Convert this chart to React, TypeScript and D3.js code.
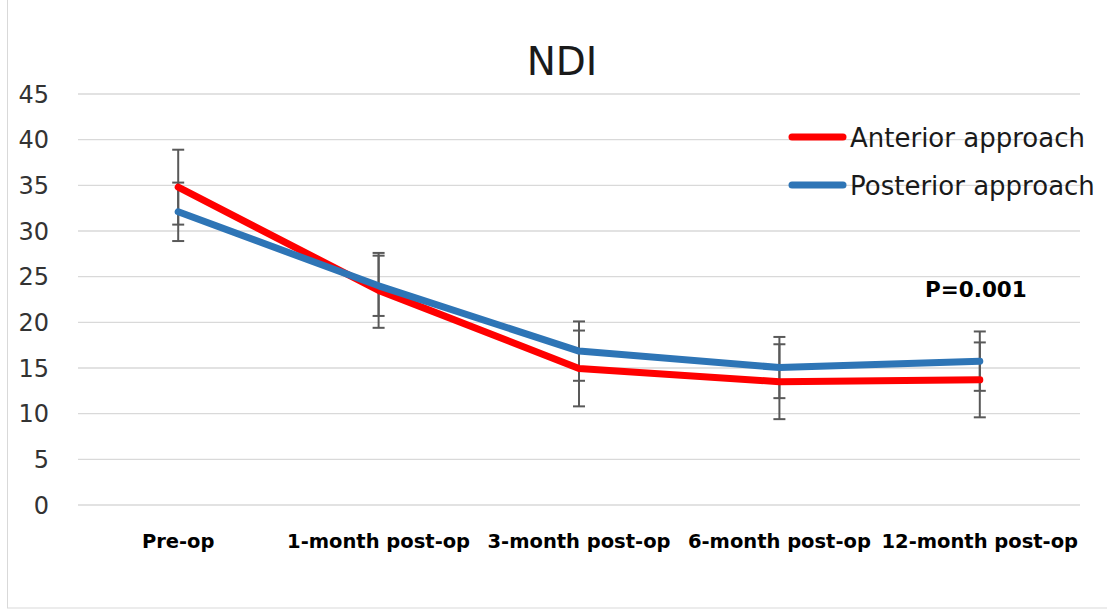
import React from "react";
import * as d3 from "d3";

const categories = ["Pre-op", "1-month post-op", "3-month post-op", "6-month post-op", "12-month post-op"];
const anteriorValues = [34.8, 23.5, 14.95, 13.5, 13.7];
const anteriorErrors = [4.1, 4.1, 4.15, 4.1, 4.1];
const posteriorValues = [32.1, 24.0, 16.85, 15.05, 15.75];
const posteriorErrors = [3.2, 3.3, 3.25, 3.35, 3.25];
const yTicks = [0, 5, 10, 15, 20, 25, 30, 35, 40, 45];

const W = 1107;
const H = 615;
const left = 78;
const right = 1080;
const top = 94;
const bottom = 505;

const font = "'DejaVu Sans', sans-serif";

export default function App() {
  const x = d3.scaleBand<string>().domain(categories).range([left, right]);
  const y = d3.scaleLinear().domain([0, 45]).range([bottom, top]);
  const cx = (c: string) => (x(c) as number) + x.bandwidth() / 2;
  const line = d3
    .line<number>()
    .x((_, i) => cx(categories[i]))
    .y((d) => y(d));

  const series = [
    { name: "Anterior approach", color: "#ff0000", values: anteriorValues, errors: anteriorErrors },
    { name: "Posterior approach", color: "#2e75b6", values: posteriorValues, errors: posteriorErrors },
  ];

  return (
    <svg width={W} height={H} style={{ position: "absolute", left: 0, top: 0, background: "#fff" }}>
      <rect x={7.5} y={-2} width={W + 5} height={610} fill="#fff" stroke="#d9d9d9" strokeWidth={1} />
      <text x={562} y={75} textAnchor="middle" fontFamily={font} fontSize={39} fill="#1a1a1a">
        NDI
      </text>
      {yTicks.map((t) => (
        <g key={t}>
          <line x1={left} x2={right} y1={y(t)} y2={y(t)} stroke="#d9d9d9" strokeWidth={1.3} />
          <text x={49} y={y(t)} dy="0.36em" textAnchor="end" fontFamily={font} fontSize={24} fill="#333">
            {t}
          </text>
        </g>
      ))}
      {categories.map((c) => (
        <text key={c} x={cx(c)} y={548} textAnchor="middle" fontFamily={font} fontWeight="bold" fontSize={19.5} fill="#000">
          {c}
        </text>
      ))}
      {series.map((s) => (
        <g key={s.name}>
          {s.values.map((v, i) => {
            const xx = cx(categories[i]);
            const y1 = y(v + s.errors[i]);
            const y0 = y(v - s.errors[i]);
            return (
              <g key={i} stroke="#595959" strokeWidth={2}>
                <line x1={xx} x2={xx} y1={y1} y2={y0} />
                <line x1={xx - 6} x2={xx + 6} y1={y1} y2={y1} />
                <line x1={xx - 6} x2={xx + 6} y1={y0} y2={y0} />
              </g>
            );
          })}
        </g>
      ))}
      {series.map((s) => (
        <path
          key={s.name}
          d={line(s.values) as string}
          fill="none"
          stroke={s.color}
          strokeWidth={7}
          strokeLinecap="round"
          strokeLinejoin="round"
        />
      ))}
      {series.map((s, i) => (
        <g key={s.name} transform={`translate(0, ${137 + i * 48})`}>
          <line x1={792} x2={843} y1={0} y2={0} stroke={s.color} strokeWidth={7} strokeLinecap="round" />
          <text x={850} y={10} fontFamily={font} fontSize={26} fill="#1a1a1a">
            {s.name}
          </text>
        </g>
      ))}
      <text x={925} y={297} fontFamily={font} fontWeight="bold" fontSize={21.5} fill="#000">
        P=0.001
      </text>
    </svg>
  );
}
